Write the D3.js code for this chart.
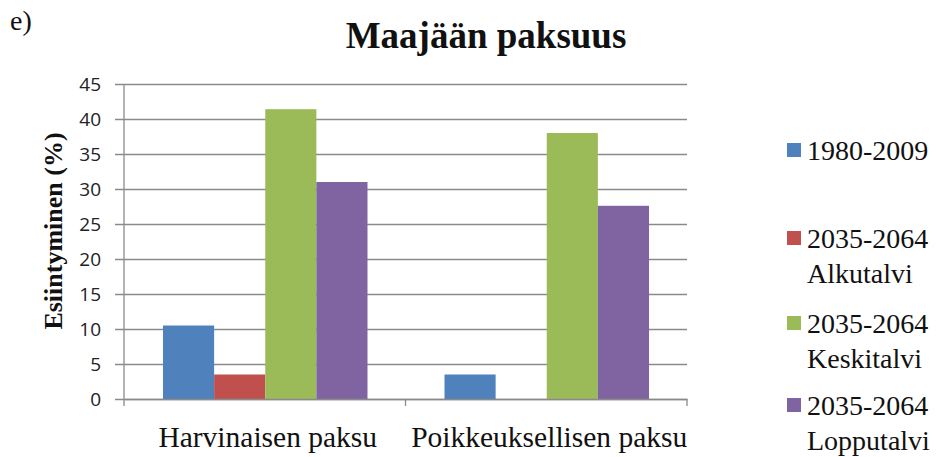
<!DOCTYPE html>
<html lang="fi">
<head>
  <meta charset="UTF-8">
  <script src="https://cdn.jsdelivr.net/npm/d3@7/dist/d3.min.js"></script>
  <title>Maajään paksuus</title>
  <style>
    body { margin: 0; background: #fff; }
  </style>
</head>
<body>
  <svg width="937" height="457"></svg>
  <script>
    var categories = ["Harvinaisen paksu", "Poikkeuksellisen paksu"];
    var seriesNames = ["1980-2009", "2035-2064 Alkutalvi", "2035-2064 Keskitalvi", "2035-2064 Lopputalvi"];
    var seriesColors = ["#4F81BD", "#C0504D", "#9BBB59", "#8064A2"];
    // one array per series, values by category
    var s1980 = [10.5, 3.5];
    var sAlku = [3.5, 0];
    var sKeski = [41.4, 38.0];
    var sLoppu = [31.0, 27.6];
    var yTicks = [0, 5, 10, 15, 20, 25, 30, 35, 40, 45];

    var values = [s1980, sAlku, sKeski, sLoppu];
    var serif = "'Liberation Serif', 'Times New Roman', serif";

    var marge = { top: 84, bottom: 58, left: 124, right: 250 };
    var svg = d3.select("svg");
    var width = +svg.attr("width") - marge.left - marge.right;
    var height = +svg.attr("height") - marge.top - marge.bottom;
    var g = svg.append("g")
      .attr("transform", "translate(" + marge.left + "," + marge.top + ")");

    var x0 = d3.scaleBand().domain(categories).range([0, width]).paddingInner(0).paddingOuter(0);
    var x1 = d3.scaleBand().domain(d3.range(seriesNames.length))
      .range([39, x0.bandwidth() - 38]);
    var y = d3.scaleLinear().domain([0, 45]).range([height, 0]);

    // gridlines with little outside ticks
    g.append("g")
      .call(d3.axisLeft(y).tickValues(yTicks).tickSize(-width - 9).tickFormat(""))
      .attr("transform", "translate(-9,0)")
      .call(a => a.select(".domain").remove())
      .selectAll("line").attr("stroke", "#8a8a8a").attr("stroke-width", 1.3);

    g.append("line").attr("x1", 0).attr("x2", 0).attr("y1", 0).attr("y2", height)
      .attr("stroke", "#8a8a8a").attr("stroke-width", 1.3);

    // tick labels
    g.selectAll(".ylab").data(yTicks).enter().append("text")
      .attr("x", -23).attr("y", d => y(d)).attr("dy", "0.36em")
      .attr("text-anchor", "end")
      .attr("font-family", "'Open Sans', 'Liberation Sans', sans-serif")
      .attr("font-size", 19).attr("fill", "#222")
      .text(d => d);

    // bars
    var groups = g.selectAll(".cat").data(categories).enter().append("g")
      .attr("transform", d => "translate(" + x0(d) + ",0)");
    groups.selectAll("rect")
      .data((d, ci) => values.map((s, si) => ({ si: si, v: s[ci] })))
      .enter().append("rect")
      .attr("x", d => x1(d.si))
      .attr("width", x1.bandwidth())
      .attr("y", d => y(d.v))
      .attr("height", d => height - y(d.v))
      .attr("fill", d => seriesColors[d.si]);

    // x axis
    g.append("g").attr("transform", "translate(0," + height + ")")
      .call(d3.axisBottom(x0).tickValues([]).tickSizeOuter(0))
      .call(a => a.select(".domain").attr("stroke", "#8a8a8a").attr("stroke-width", 1.3));
    [0, x0.bandwidth(), width].forEach(function (t) {
      g.append("line").attr("x1", t).attr("x2", t).attr("y1", height).attr("y2", height + 7)
        .attr("stroke", "#8a8a8a").attr("stroke-width", 1.3);
    });
    g.selectAll(".xlab").data(categories).enter().append("text")
      .attr("x", d => x0(d) + x0.bandwidth() / 2 + 3)
      .attr("y", height + 48)
      .attr("text-anchor", "middle")
      .attr("font-family", serif)
      .attr("font-size", 29.5).attr("fill", "#111")
      .text(d => d);

    // y label
    svg.append("text")
      .attr("transform", "translate(62,231) rotate(-90)")
      .attr("text-anchor", "middle")
      .attr("font-family", serif)
      .attr("font-weight", "bold").attr("font-size", 26).attr("fill", "#111")
      .text("Esiintyminen (%)");

    // title
    svg.append("text")
      .attr("x", 486).attr("y", 48)
      .attr("text-anchor", "middle")
      .attr("font-family", serif)
      .attr("font-weight", "bold").attr("font-size", 37).attr("fill", "#111")
      .text("Maajään paksuus");

    svg.append("text")
      .attr("x", 10).attr("y", 30)
      .attr("font-family", serif)
      .attr("font-size", 28).attr("fill", "#111")
      .text("e)");

    // legend
    var legendY = [150, 238, 323, 405];
    var legend = svg.selectAll(".leg").data(seriesNames).enter().append("g")
      .attr("transform", (d, i) => "translate(787," + legendY[i] + ")");
    legend.append("rect").attr("x", 0).attr("y", -7).attr("width", 14).attr("height", 14)
      .attr("fill", (d, i) => seriesColors[i]);
    legend.append("text")
      .attr("font-family", serif)
      .attr("font-size", 28).attr("fill", "#111")
      .selectAll("tspan")
      .data(d => d.split(" "))
      .enter().append("tspan")
      .attr("x", 20)
      .attr("y", (d, i) => i * 35)
      .attr("dy", "0.34em")
      .text(d => d);
  </script>
</body>
</html>
